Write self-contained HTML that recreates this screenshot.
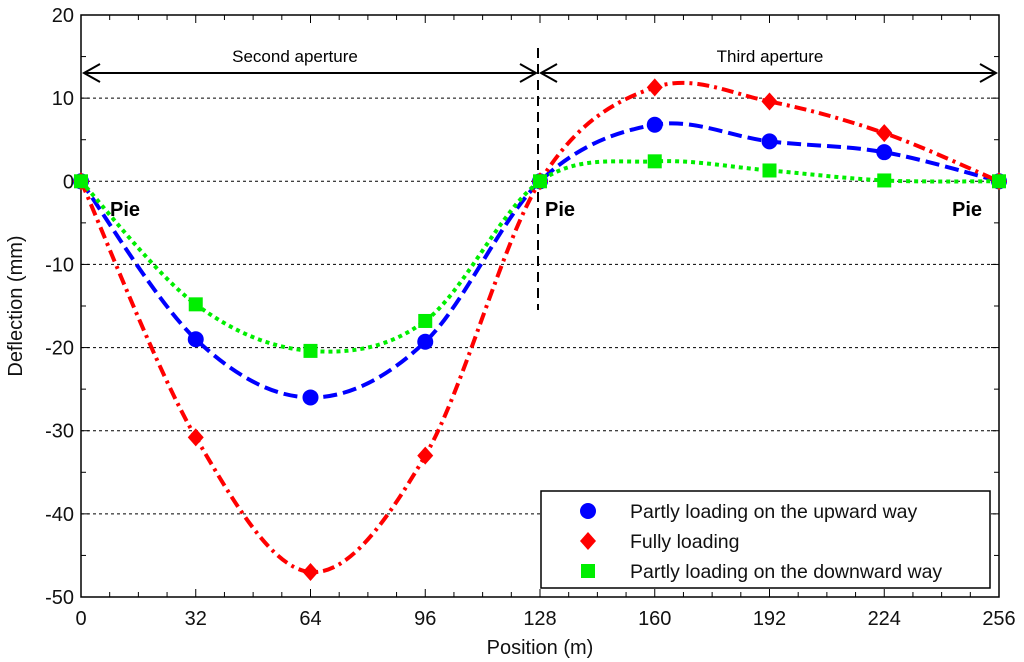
<!DOCTYPE html>
<html><head><meta charset="utf-8"><style>
body{margin:0;background:#fff}
svg{display:block;font-family:"Liberation Sans",Arial,sans-serif}
</style></head><body>
<svg id="c" width="1024" height="662" xmlns="http://www.w3.org/2000/svg"></svg>
<script>
const categories=[0,32,64,96,128,160,192,224,256];
const upward=[0,-19,-26,-19.3,0,6.8,4.8,3.5,0];
const fully=[0,-30.8,-47,-33,0,11.3,9.6,5.8,0];
const downward=[0,-14.8,-20.4,-16.8,0,2.4,1.3,0.1,0];
const xTicks=[0,32,64,96,128,160,192,224,256];
const yTicks=[20,10,0,-10,-20,-30,-40,-50];
const L=81,R=999,T=15,B=597;
const X=v=>L+(v/256)*(R-L);
const Y=v=>T+(20-v)/70*(B-T);
const svg=document.getElementById('c');
const NS='http://www.w3.org/2000/svg';
function mk(tag,attrs,parent){const e=document.createElementNS(NS,tag);for(const k in attrs)e.setAttribute(k,attrs[k]);(parent||svg).appendChild(e);return e;}
yTicks.forEach(v=>{if(v<20&&v>-50){const g=mk('line',{x1:L,x2:R,y1:Y(v),y2:Y(v),stroke:'#000','stroke-width':1,'stroke-dasharray':'3,3'});}});
const fr=mk('rect',{x:L,y:T,width:R-L,height:B-T,fill:'none',stroke:'#000','stroke-width':1.5});

for(let v=0;v<=256;v+=8){const maj=v%32===0;const len=maj?8:5;
mk('line',{x1:X(v),x2:X(v),y1:B,y2:B-len,stroke:'#000'});mk('line',{x1:X(v),x2:X(v),y1:T,y2:T+len,stroke:'#000'});}
xTicks.forEach(v=>{const t=mk('text',{x:X(v),y:625,'text-anchor':'middle','font-size':20,fill:'#111'});t.textContent=v;});
for(let v=-50;v<=20;v+=5){const len=v%10===0?8:5;mk('line',{x1:L,x2:L+len,y1:Y(v),y2:Y(v),stroke:'#000'});mk('line',{x1:R,x2:R-len,y1:Y(v),y2:Y(v),stroke:'#000'});}
yTicks.forEach(v=>{const t=mk('text',{x:74,y:Y(v)+7,'text-anchor':'end','font-size':20,fill:'#111'});t.textContent=v;});
let t=mk('text',{x:540,y:654,'text-anchor':'middle','font-size':20,fill:'#111'});t.textContent='Position (m)';
t=mk('text',{x:22,y:306,'text-anchor':'middle','font-size':20,fill:'#111',transform:'rotate(-90 22 306)'});t.textContent='Deflection (mm)';
const ay=73;
mk('line',{x1:84,x2:536,y1:ay,y2:ay,stroke:'#000','stroke-width':2});
mk('polyline',{points:`100,${ay-9} 84,${ay} 100,${ay+9}`,fill:'none',stroke:'#000','stroke-width':2});
mk('polyline',{points:`520,${ay-9} 536,${ay} 520,${ay+9}`,fill:'none',stroke:'#000','stroke-width':2});
mk('line',{x1:541,x2:996,y1:ay,y2:ay,stroke:'#000','stroke-width':2});
mk('polyline',{points:`557,${ay-9} 541,${ay} 557,${ay+9}`,fill:'none',stroke:'#000','stroke-width':2});
mk('polyline',{points:`980,${ay-9} 996,${ay} 980,${ay+9}`,fill:'none',stroke:'#000','stroke-width':2});
mk('line',{x1:538,x2:538,y1:48,y2:310,stroke:'#000','stroke-width':2,'stroke-dasharray':'10,6'});
t=mk('text',{x:295,y:62,'text-anchor':'middle','font-size':17});t.textContent='Second aperture';
t=mk('text',{x:770,y:62,'text-anchor':'middle','font-size':17});t.textContent='Third aperture';
[[110,216],[545,216],[952,216]].forEach(p=>{const e=mk('text',{x:p[0],y:p[1],'font-size':20,'font-weight':'bold'});e.textContent='Pie';});
function smooth(vals){const p=categories.map((c,i)=>[X(c),Y(vals[i])]);let d=`M${p[0][0]},${p[0][1]}`;
for(let i=0;i<p.length-1;i++){const p0=p[i-1]||p[i],p1=p[i],p2=p[i+1],p3=p[i+2]||p[i+1];
d+=` C${p1[0]+(p2[0]-p0[0])/6},${p1[1]+(p2[1]-p0[1])/6} ${p2[0]-(p3[0]-p1[0])/6},${p2[1]-(p3[1]-p1[1])/6} ${p2[0]},${p2[1]}`;}return d;}
const series=[[upward,'#0000ff','14,6','circle','upward-series'],[fully,'#ff0000','12,5,3,5','diamond','fully-series'],[downward,'#00ee00','4,4','square','downward-series']];
function marker(type,x,y,col,parent){if(type==='circle')return mk('circle',{cx:x,cy:y,r:8,fill:col},parent);
if(type==='diamond')return mk('polygon',{points:`${x},${y-9} ${x+8},${y} ${x},${y+9} ${x-8},${y}`,fill:col},parent);
return mk('rect',{x:x-7,y:y-7,width:14,height:14,fill:col},parent);}
series.forEach(s=>{const g=mk('g',{});
mk('path',{d:smooth(s[0]),fill:'none',stroke:s[1],'stroke-width':4,'stroke-dasharray':s[2]},g);
categories.forEach((c,i)=>{const m=marker(s[3],X(c),Y(s[0][i]),s[1],g);});});
const lg=mk('g',{});
mk('rect',{x:541,y:491,width:449,height:97,fill:'#fff',stroke:'#000','stroke-width':1.5},lg);
const names=['Partly loading on the upward way','Fully loading','Partly loading on the downward way'];
series.forEach((s,i)=>{const y=511+i*30;const e=mk('g',{},lg);
marker(s[3],588,y,s[1],e);const tx=mk('text',{x:630,y:y+7,'font-size':19.5,fill:'#111'},e);tx.textContent=names[i];});
</script>
</body></html>
